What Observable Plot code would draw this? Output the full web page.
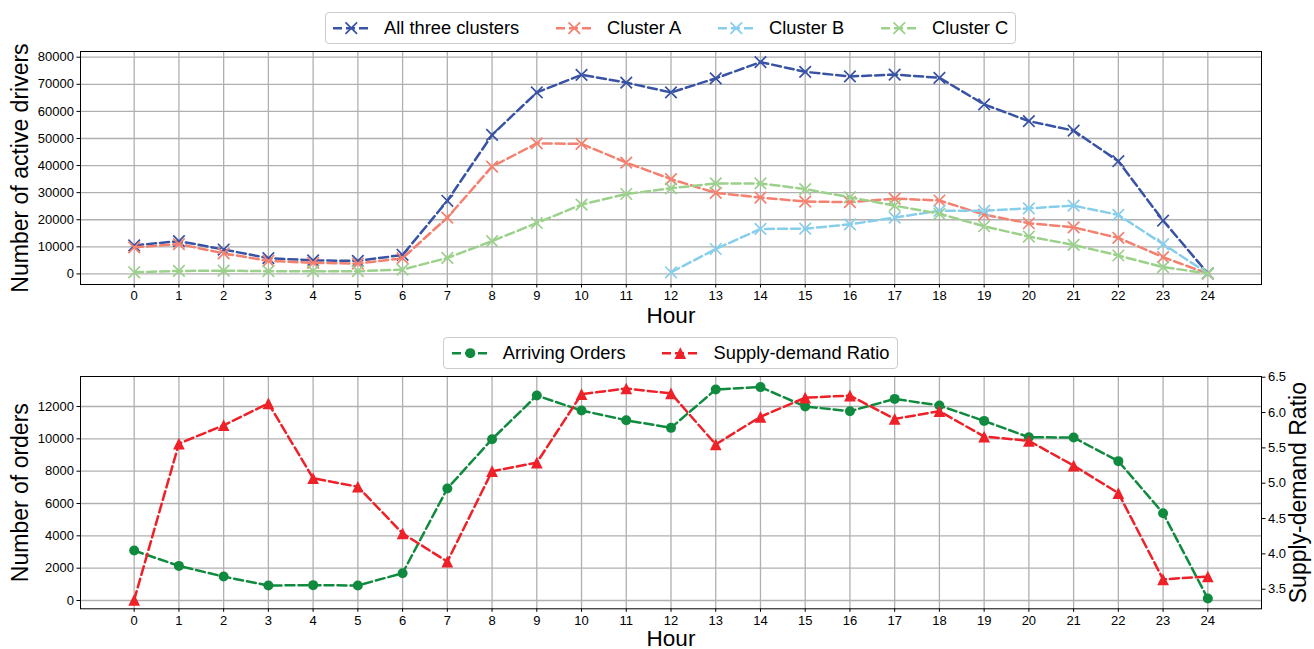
<!DOCTYPE html>
<html>
<head>
<meta charset="utf-8">
<script src="https://cdn.jsdelivr.net/npm/d3@7"></script>
<script src="https://cdn.jsdelivr.net/npm/@observablehq/plot@0.6"></script>
<style>
  html, body { margin: 0; padding: 0; background: #fff; }
  #root { position: relative; width: 1314px; height: 649px; overflow: hidden; font-family: "Liberation Sans", Arial, sans-serif; }
  .panel { position: absolute; left: 0; }
  .legwrap { position: absolute; left: 80px; width: 1181px; display: flex; justify-content: center; }
  .legend { display: flex; align-items: center; box-sizing: border-box; background: #fff;
            border: 1px solid #cccccc; border-radius: 4px; padding: 0 0.4em; font-size: 18.3px; color: #000; }
  .item { display: flex; align-items: center; }
  .item + .item { margin-left: 2em; }
  .item svg { width: 2em; height: 1em; margin-right: 0.8em; overflow: visible; }
  .item span { line-height: 1; white-space: nowrap; }
</style>
</head>
<body>
<div id="root"></div>
<script>
// ---------- data ----------
const hours = [0,1,2,3,4,5,6,7,8,9,10,11,12,13,14,15,16,17,18,19,20,21,22,23,24];
const allThree = [10500,12100,9000,5800,5000,4800,7000,27000,51300,67000,73500,70600,67000,72200,78200,74600,72900,73600,72400,62600,56400,52900,41600,19700,200];
const clusterA = [9800,11000,7600,4800,4100,3800,5800,20800,39600,48200,48000,41100,35000,29900,28200,26700,26500,27800,27100,21900,18700,17200,13300,6200,100];
const hoursB = [12,13,14,15,16,17,18,19,20,21,22,23,24];
const clusterB = [600,9200,16600,16700,18300,20800,23300,23300,24200,25200,21800,11000,200];
const clusterC = [600,1100,1200,1000,1000,1000,1600,5900,12100,18800,25600,29500,31600,33400,33400,31300,28300,25200,22200,17600,13800,10700,6800,2500,200];
const arrivingOrders = [3090,2140,1480,930,950,930,1690,6930,9980,12680,11750,11150,10680,13050,13200,12000,11710,12470,12060,11110,10100,10080,8620,5400,120];
const supplyDemandRatio = [3.35,5.56,5.82,6.13,5.07,4.95,4.29,3.89,5.17,5.29,6.26,6.34,6.27,5.55,5.94,6.21,6.24,5.91,6.02,5.66,5.60,5.25,4.86,3.64,3.68];
const driverTicks = [0,10000,20000,30000,40000,50000,60000,70000,80000];
const orderTicks = [0,2000,4000,6000,8000,10000,12000];
const ratioTicks = [3.5,4.0,4.5,5.0,5.5,6.0,6.5];
const topSeries = ["All three clusters","Cluster A","Cluster B","Cluster C"];
const bottomSeries = ["Arriving Orders","Supply-demand Ratio"];

// ---------- styles ----------
const colors = {
  "All three clusters": "#3953a4",
  "Cluster A": "#f4806f",
  "Cluster B": "#87ceeb",
  "Cluster C": "#9bd18b",
  "Arriving Orders": "#108a3f",
  "Supply-demand Ratio": "#ee2028"
};
const DASH = "9,4";
const LW = 2.5;
const FONT = "'Liberation Sans', Arial, sans-serif";

// matplotlib-like marker symbols
const symX = { draw(ctx, size) { const r = Math.sqrt(size) / 2; ctx.moveTo(-r, -r); ctx.lineTo(r, r); ctx.moveTo(-r, r); ctx.lineTo(r, -r); } };
const symTri = { draw(ctx, size) { const r = Math.sqrt(size) / 2; ctx.moveTo(0, -r); ctx.lineTo(r, r); ctx.lineTo(-r, r); ctx.closePath(); } };

// ---------- tables ----------
const topRows = [];
hours.forEach((h, i) => topRows.push({series: "All three clusters", hour: h, value: allThree[i]}));
hours.forEach((h, i) => topRows.push({series: "Cluster A", hour: h, value: clusterA[i]}));
hoursB.forEach((h, i) => topRows.push({series: "Cluster B", hour: h, value: clusterB[i]}));
hours.forEach((h, i) => topRows.push({series: "Cluster C", hour: h, value: clusterC[i]}));

const yLeft2 = [-513, 13856];
const ratioDomain = [3.223, 6.51];
const toLeft = d3.scaleLinear(ratioDomain, yLeft2);
const ordersRows = hours.map((h, i) => ({hour: h, value: arrivingOrders[i]}));
const ratioRows = hours.map((h, i) => ({hour: h, ratio: supplyDemandRatio[i]}));

const root = document.getElementById("root");
const commonStyle = {fontFamily: FONT, fontSize: "13px", color: "#000", background: "transparent", overflow: "visible"};
const labelOpts = {fontSize: 23, fill: "#000", textAnchor: "middle", lineAnchor: "middle"};

// ---------- top plot ----------
const topMarks = [
  Plot.gridX(hours, {stroke: "#b0b0b0", strokeOpacity: 1, strokeWidth: 1.3}),
  Plot.gridY(driverTicks, {stroke: "#b0b0b0", strokeOpacity: 1, strokeWidth: 1.3}),
];
for (const s of topSeries) {
  const rows = topRows.filter(d => d.series === s);
  topMarks.push(Plot.line(rows, {x: "hour", y: "value", stroke: colors[s], strokeWidth: LW, strokeDasharray: DASH}));
  topMarks.push(Plot.dot(rows, {x: "hour", y: "value", stroke: colors[s], strokeWidth: 1.7, fill: "none", symbol: symX, r: 6.5}));
}
topMarks.push(
  Plot.frame({stroke: "#000", strokeWidth: 1}),
  Plot.axisX(hours, {tickSize: 3.5, tickPadding: 3, fontSize: 13, label: null, tickFormat: d => String(d)}),
  Plot.axisY(driverTicks, {tickSize: 3.5, tickPadding: 3, fontSize: 13, label: null, tickFormat: d => String(d)}),
  Plot.text(["Number of active drivers"], {...labelOpts, frameAnchor: "left", rotate: -90, dx: -60}),
  Plot.text(["Hour"], {...labelOpts, fontSize: 22.5, frameAnchor: "bottom", dy: 31.5})
);
const topPlot = Plot.plot({
  width: 1314, height: 330,
  marginTop: 51, marginBottom: 46, marginLeft: 80, marginRight: 53,
  x: {domain: [-1.2, 25.2]},
  y: {domain: [-3910, 82110]},
  style: commonStyle,
  marks: topMarks
});
topPlot.classList.add("panel");
topPlot.style.top = "0px";
root.appendChild(topPlot);

// ---------- bottom plot ----------
const bottomPlot = Plot.plot({
  width: 1314, height: 319,
  marginTop: 46, marginBottom: 40.7, marginLeft: 80, marginRight: 53,
  x: {domain: [-1.2, 25.2]},
  y: {domain: yLeft2},
  style: commonStyle,
  marks: [
    Plot.gridX(hours, {stroke: "#b0b0b0", strokeOpacity: 1, strokeWidth: 1.3}),
    Plot.gridY(orderTicks, {stroke: "#b0b0b0", strokeOpacity: 1, strokeWidth: 1.3}),
    Plot.line(ordersRows, {x: "hour", y: "value", stroke: colors["Arriving Orders"], strokeWidth: LW, strokeDasharray: DASH}),
    Plot.dot(ordersRows, {x: "hour", y: "value", fill: colors["Arriving Orders"], r: 5}),
    Plot.line(ratioRows, {x: "hour", y: d => toLeft(d.ratio), stroke: colors["Supply-demand Ratio"], strokeWidth: LW, strokeDasharray: DASH}),
    Plot.dot(ratioRows, {x: "hour", y: d => toLeft(d.ratio), fill: colors["Supply-demand Ratio"], symbol: symTri, r: 6.6}),
    Plot.frame({stroke: "#000", strokeWidth: 1}),
    Plot.axisX(hours, {tickSize: 3.5, tickPadding: 3, fontSize: 13, label: null, tickFormat: d => String(d)}),
    Plot.axisY(orderTicks, {tickSize: 3.5, tickPadding: 3, fontSize: 13, label: null, tickFormat: d => String(d)}),
    Plot.axisY(ratioTicks.map(toLeft), {anchor: "right", tickSize: 3.5, tickPadding: 3, fontSize: 13, label: null, tickFormat: d => toLeft.invert(d).toFixed(1)}),
    Plot.text(["Number of orders"], {...labelOpts, frameAnchor: "left", rotate: -90, dx: -60}),
    Plot.text(["Supply-demand Ratio"], {...labelOpts, frameAnchor: "right", rotate: -90, dx: 37}),
    Plot.text(["Hour"], {...labelOpts, fontSize: 22.5, frameAnchor: "bottom", dy: 29.5})
  ]
});
bottomPlot.classList.add("panel");
bottomPlot.style.top = "330px";
root.appendChild(bottomPlot);

// ---------- legends (HTML) ----------
function sample(color, kind) {
  const ns = "http://www.w3.org/2000/svg";
  const svg = document.createElementNS(ns, "svg");
  svg.setAttribute("viewBox", "0 0 36.6 18.3");
  const line = document.createElementNS(ns, "line");
  line.setAttribute("x1", 0); line.setAttribute("x2", 36.6);
  line.setAttribute("y1", 9.15); line.setAttribute("y2", 9.15);
  line.setAttribute("stroke", color); line.setAttribute("stroke-width", LW);
  line.setAttribute("stroke-dasharray", DASH);
  svg.appendChild(line);
  const cx = 18.3, cy = 9.15;
  let m;
  if (kind === "x") {
    m = document.createElementNS(ns, "path");
    const r = 5.8;
    m.setAttribute("d", `M${cx-r},${cy-r}L${cx+r},${cy+r}M${cx-r},${cy+r}L${cx+r},${cy-r}`);
    m.setAttribute("stroke", color); m.setAttribute("stroke-width", 1.7); m.setAttribute("fill", "none");
  } else if (kind === "o") {
    m = document.createElementNS(ns, "circle");
    m.setAttribute("cx", cx); m.setAttribute("cy", cy); m.setAttribute("r", 5);
    m.setAttribute("fill", color);
  } else {
    m = document.createElementNS(ns, "path");
    const r = 5.85;
    m.setAttribute("d", `M${cx},${cy-r}L${cx+r},${cy+r}L${cx-r},${cy+r}Z`);
    m.setAttribute("fill", color);
  }
  svg.appendChild(m);
  return svg;
}
function legend(top, height, names, kinds) {
  const wrap = document.createElement("div");
  wrap.className = "legwrap";
  wrap.style.top = top + "px";
  const box = document.createElement("div");
  box.className = "legend";
  box.style.height = height + "px";
  names.forEach((n, i) => {
    const it = document.createElement("div");
    it.className = "item";
    it.appendChild(sample(colors[n], kinds[i]));
    const sp = document.createElement("span");
    sp.textContent = n;
    it.appendChild(sp);
    box.appendChild(it);
  });
  wrap.appendChild(box);
  root.appendChild(wrap);
}
legend(12, 31.5, topSeries, ["x","x","x","x"]);
legend(337, 32, bottomSeries, ["o","^"]);
</script>
</body>
</html>
